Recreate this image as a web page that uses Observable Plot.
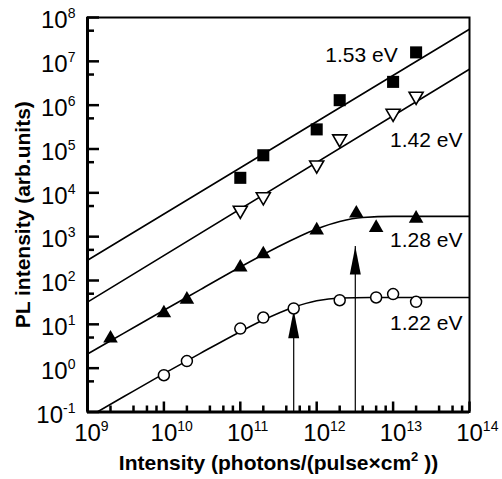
<!DOCTYPE html>
<html><head><meta charset="utf-8">
<script src="https://cdn.jsdelivr.net/npm/d3@7"></script>
<script src="https://cdn.jsdelivr.net/npm/@observablehq/plot@0.6"></script>
<style>
body{margin:0;background:#fff;}
#chart svg{font-family:"Liberation Sans",Arial,Helvetica,sans-serif;}
</style></head><body><div id="chart"></div>
<script>
// ---- data ----
const xSq = [1e11, 2e11, 1e12, 2e12, 1e13, 2e13];           // 1.53 eV (filled squares)
const ySq = [2.2e4, 7.2e4, 2.8e5, 1.3e6, 3.4e6, 1.6e7];
const xTd = [1e11, 2e11, 1e12, 2e12, 1e13, 2e13];           // 1.42 eV (open down triangles)
const yTd = [4.0e3, 8.1e3, 4.3e4, 1.7e5, 6.5e5, 1.6e6];
const xTu = [2e9, 1e10, 2e10, 1e11, 2e11, 1e12, 3.3e12, 6e12, 2e13]; // 1.28 eV (filled up triangles)
const yTu = [4.8, 18, 37, 200, 400, 1.4e3, 3.4e3, 1.6e3, 2.6e3];
const xCi = [1e10, 2e10, 1e11, 2e11, 5e11, 2e12, 6e12, 1e13, 2e13]; // 1.22 eV (open circles)
const yCi = [0.69, 1.45, 8, 14.3, 23, 35.5, 41, 49, 32.6];

// fitted curves, points
const fitX153 = [1e9, 1e14];
const fitY153 = [290, 5.4e7];
const fitX142 = [1e9, 1e14];
const fitY142 = [32, 6.6e6];
const fitX128 = [1e9, 3e9, 1e10, 3e10, 1e11, 3e11, 6e11, 1e12, 2e12, 4e12, 1e13, 1e14];
const fitY128 = [2.1, 6.3, 21, 62, 203, 566, 1024, 1497, 2219, 2741, 2898, 2900];
const fitX122 = [1.34e9, 3e9, 1e10, 3e10, 1e11, 2e11, 5e11, 1e12, 2e12, 5e12, 1e13, 1e14];
const fitY122 = [0.1, 0.225, 0.75, 2.18, 6.8, 12.5, 24.5, 34.4, 39.9, 41, 41, 41];

// arrows (x position, value at tip)
const arrowX = [5e11, 3.2e12];
const arrowTip = [21, 600];

// annotations
const labelText = ["1.53 eV", "1.42 eV", "1.28 eV", "1.22 eV"];
const labelX = [1.15e13, 8.1e13, 8.1e13, 8.1e13];
const labelY = [1.4e7, 1.6e5, 830, 10.6];

// ticks
const xMajor = [1e9, 1e10, 1e11, 1e12, 1e13, 1e14];
const yMajor = [1e-1, 1e0, 1e1, 1e2, 1e3, 1e4, 1e5, 1e6, 1e7, 1e8];
const xMinorMult = [2, 4, 6, 8];
const yMinorMult = [5];
const xTitle = "Intensity (photons/(pulse\u00D7cm^2 ))";
const yTitle = "PL intensity (arb.units)";

// ---- build ----
const pts = (xs, ys) => xs.map((x, i) => ({x, y: ys[i]}));
const xMinor = xMajor.slice(0, -1).flatMap(v => xMinorMult.map(m => v * m));
const yMinor = yMajor.slice(0, -1).flatMap(v => yMinorMult.map(m => v * m));
const arrows = arrowX.map((x, i) => ({x, tip: arrowTip[i]}));
const labels = labelText.map((t, i) => ({t, x: labelX[i], y: labelY[i]}));
const supFmt = v => "10^" + Math.round(Math.log10(v));

const arrowHead = {draw(ctx) { ctx.moveTo(0, 0); ctx.lineTo(5.5, 28); ctx.lineTo(-5.5, 28); ctx.closePath(); }};

const lineOpts = {x: "x", y: "y", stroke: "#000", strokeWidth: 1.6, clip: true};

const plot = Plot.plot({
  width: 502, height: 479,
  marginLeft: 87, marginRight: 33, marginTop: 17, marginBottom: 67.5,
  x: {type: "log", domain: [1e9, 1e14], label: null},
  y: {type: "log", domain: [0.1, 1e8], label: null},
  style: {fontFamily: "'Liberation Sans', Arial, Helvetica, sans-serif", fontSize: "22px", color: "#000", background: "#fff"},
  marks: [
    Plot.line(pts(fitX153, fitY153), lineOpts),
    Plot.line(pts(fitX142, fitY142), lineOpts),
    Plot.line(pts(fitX128, fitY128), {...lineOpts, curve: "monotone-x"}),
    Plot.line(pts(fitX122, fitY122), {...lineOpts, curve: "monotone-x"}),
    Plot.ruleX(arrows, {x: "x", y1: 0.1, y2: "tip", stroke: "#000", strokeWidth: 1.2}),
    Plot.dot(arrows, {x: "x", y: "tip", symbol: arrowHead, fill: "#000", stroke: "none", r: 1}),
    Plot.dot(pts(xSq, ySq), {x: "x", y: "y", symbol: "square", fill: "#000", stroke: "none", r: 6.8}),
    Plot.dot(pts(xTd, yTd), {x: "x", y: "y", symbol: "triangle", fill: "#fff", stroke: "#000", strokeWidth: 1.6, rotate: 180, r: 5.2}),
    Plot.dot(pts(xTu, yTu), {x: "x", y: "y", symbol: "triangle", fill: "#000", stroke: "none", r: 5.4}),
    Plot.dot(pts(xCi, yCi), {x: "x", y: "y", symbol: "circle", fill: "#fff", stroke: "#000", strokeWidth: 1.5, r: 5.5}),
    Plot.text(labels, {x: "x", y: "y", text: "t", textAnchor: "end", fontSize: 21, fill: "#000"}),
    Plot.frame({stroke: "#000", strokeWidth: 2}),
    Plot.ruleX([1e9], {stroke: "#000", strokeWidth: 3}),
    Plot.ruleY([0.1], {stroke: "#000", strokeWidth: 3}),
    // inward ticks
    Plot.axisY(yMajor, {anchor: "left", tickSize: -12, strokeWidth: 2.5, tickFormat: () => "", label: null}),
    Plot.axisY(yMinor, {anchor: "left", tickSize: -7, strokeWidth: 2.5, tickFormat: () => "", label: null}),
    Plot.axisX(xMajor, {anchor: "bottom", tickSize: -10, strokeWidth: 2.5, tickFormat: () => "", label: null}),
    Plot.axisX(xMinor, {anchor: "bottom", tickSize: -6, strokeWidth: 2.5, tickFormat: () => "", label: null}),
    // tick labels
    Plot.axisY(yMajor, {anchor: "left", tickSize: 0, tickPadding: 12, dy: 3, tickFormat: supFmt, fontSize: 24, label: null}),
    Plot.axisX(xMajor, {anchor: "bottom", tickSize: 0, tickPadding: 12, tickFormat: supFmt, fontSize: 24, label: null}),
    // titles
    Plot.text([xTitle], {frameAnchor: "bottom", dy: 58, text: d => d, fontSize: 21, fontWeight: "bold", fill: "#000"}),
    Plot.text([yTitle], {frameAnchor: "left", textAnchor: "middle", dx: -64, rotate: -90, text: d => d, fontSize: 21, fontWeight: "bold", fill: "#000"})
  ]
});
document.getElementById("chart").append(plot);

// superscripts
const NS = "http://www.w3.org/2000/svg";
plot.querySelectorAll("text").forEach(t => {
  const m = t.textContent.match(/^(.*?)\^(-?\d+)(.*)$/);
  if (!m) return;
  const isTick = !!t.closest('[aria-label$="tick label"]');
  const sz = isTick ? 14 : 13, up = isTick ? 10 : 9;
  t.textContent = "";
  const a = document.createElementNS(NS, "tspan"); a.textContent = m[1]; t.append(a);
  const b = document.createElementNS(NS, "tspan"); b.textContent = m[2];
  b.setAttribute("font-size", sz + "px"); b.setAttribute("dy", -up); t.append(b);
  if (m[3]) {
    const c = document.createElementNS(NS, "tspan"); c.textContent = m[3]; c.setAttribute("dy", up); t.append(c);
  }
  if (t.closest('[aria-label="x-axis tick label"]')) {
    const w = b.getComputedTextLength();
    t.setAttribute("transform", (t.getAttribute("transform") || "") + ` translate(${w / 2},0)`);
  }
});
</script></body></html>
